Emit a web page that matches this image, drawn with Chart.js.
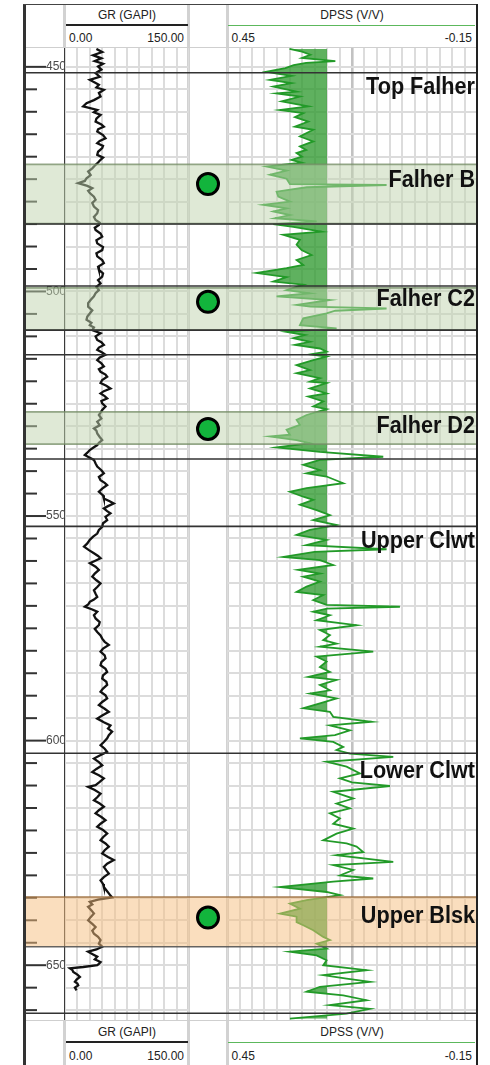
<!DOCTYPE html>
<html>
<head>
<meta charset="utf-8">
<script src="https://cdn.jsdelivr.net/npm/chart.js@4.4.1/dist/chart.umd.min.js"></script>
<style>
  html, body { margin: 0; padding: 0; background: #fff; }
  #log { position: relative; width: 490px; height: 1065px; overflow: hidden;
         font-family: "Liberation Sans", Arial, sans-serif; color: #222; }
  .abs { position: absolute; }
  .sep { position: absolute; width: 3px; background: #d2d2d2; }
  .t { position: absolute; font-size: 12px; line-height: 14px; white-space: nowrap; }
  canvas { position: absolute; }
</style>
</head>
<body>
<div id="log">
  <!-- track separators and frame -->
  <div class="sep" style="left:63px;top:5px;height:43px"></div>
  <div class="sep" style="left:63px;top:1020px;height:45px"></div>
  <div class="sep" style="left:187px;top:5px;height:1060px"></div>
  <div class="sep" style="left:225.5px;top:5px;height:1060px"></div>
  <div class="abs" style="left:26px;top:46.5px;width:450px;height:1.5px;background:#cfcfcf"></div>
  <div class="abs" style="left:26px;top:1019.5px;width:450px;height:1.5px;background:#cfcfcf"></div>
  <div class="abs" style="left:64px;top:48px;width:1px;height:972px;background:#3a3a3a"></div>

  <!-- header -->
  <div class="t" style="left:65px;width:124px;top:8px;text-align:center">GR (GAPI)</div>
  <div class="abs" style="left:66px;top:24px;width:122px;height:2.3px;background:#222"></div>
  <div class="t" style="left:69px;top:31px">0.00</div>
  <div class="t" style="right:306px;top:31px">150.00</div>
  <div class="t" style="left:227px;width:250px;top:8px;text-align:center">DPSS (V/V)</div>
  <div class="abs" style="left:228px;top:24.5px;width:247px;height:1.8px;background:#5cb85c"></div>
  <div class="t" style="left:231.5px;top:31px">0.45</div>
  <div class="t" style="right:18px;top:31px">-0.15</div>

  <!-- footer -->
  <div class="t" style="left:65px;width:124px;top:1025px;text-align:center">GR (GAPI)</div>
  <div class="abs" style="left:66px;top:1041px;width:122px;height:2.3px;background:#222"></div>
  <div class="t" style="left:69px;top:1049px">0.00</div>
  <div class="t" style="right:306px;top:1049px">150.00</div>
  <div class="t" style="left:227px;width:250px;top:1025px;text-align:center">DPSS (V/V)</div>
  <div class="abs" style="left:228px;top:1041.5px;width:247px;height:1.8px;background:#5cb85c"></div>
  <div class="t" style="left:231.5px;top:1049px">0.45</div>
  <div class="t" style="right:18px;top:1049px">-0.15</div>

  <!-- tracks -->
  <canvas id="depthTrack" width="41" height="972" style="left:26px;top:48px"></canvas>
  <canvas id="grTrack" width="124" height="972" style="left:65px;top:48px"></canvas>
  <canvas id="sampleTrack" width="38" height="972" style="left:189px;top:48px"></canvas>
  <canvas id="dpssTrack" width="250" height="972" style="left:227px;top:48px"></canvas>

  <!-- outer frame -->
  <div class="abs" style="left:23px;top:4px;width:3px;height:1061px;background:#333"></div>
  <div class="abs" style="left:23px;top:4px;width:455px;height:1px;background:#444"></div>
  <div class="abs" style="left:476px;top:4px;width:2px;height:1061px;background:#222"></div>
</div>

<script>
// ---- depth window and scales ----
const TOP_DEPTH = 445.8;
const BASE_DEPTH = 662.2;
const DEPTH_STEP = 5;
const DEPTH_LABELS = [450, 500, 550, 600, 650];
const GR_MIN = 0, GR_MAX = 150, GR_STEP = 15;
const DPSS_LEFT = 0.45, DPSS_RIGHT = -0.15, DPSS_STEP = 0.03;
const DPSS_CUTOFF = 0.21;
const DPSS_HEAVY_LINE = 0.15;

// ---- formation tops, zones, labels, sample points ----
const FORMATION_TOPS = [451.3, 485.0, 498.8, 508.6, 514.1, 537.3, 552.3, 602.8, 660.7];
const ZONE_TOPS  = [471.7, 499.2, 526.8, 634.8];
const ZONE_BASES = [484.9, 508.6, 534.0, 645.9];
const ZONE_KINDS = ['green', 'green', 'green', 'orange'];
const LABEL_NAMES  = ['Top Falher', 'Falher B', 'Falher C2', 'Falher D2', 'Upper Clwt', 'Lower Clwt', 'Upper Blsk'];
const LABEL_DEPTHS = [454.7, 475.3, 501.9, 530.2, 555.6, 606.9, 639.2];
const SAMPLE_DEPTHS = [476.1, 502.3, 530.6, 639.4];

// ---- gamma ray log ----
const GR_DEPTH = [
  446.0,446.7,447.4,448.1,448.7,449.3,449.9,450.6,451.4,452.2,
  452.9,453.5,454.0,454.6,455.1,455.8,456.6,457.4,458.1,458.8,
  459.6,460.1,460.7,461.5,462.2,462.8,463.3,463.9,464.4,465.2,
  465.9,466.5,467.0,467.6,468.1,468.9,469.6,470.2,470.7,471.3,
  471.8,472.6,473.3,474.1,474.8,475.4,475.9,476.5,477.0,477.6,
  478.1,478.9,479.6,480.3,481.1,481.9,482.6,483.4,484.1,484.7,
  485.2,485.8,486.3,487.1,487.8,488.6,489.3,490.1,490.8,491.5,
  492.2,493.0,493.7,494.5,495.2,496.0,496.7,497.5,498.2,499.0,
  499.7,500.4,501.1,501.9,502.6,503.4,504.2,504.9,505.6,506.3,
  507.0,507.5,508.0,508.6,509.3,510.0,510.8,511.3,511.9,512.5,
  513.0,513.6,514.1,514.7,515.3,516.0,516.7,517.3,517.9,518.5,
  519.0,519.7,520.4,521.0,521.6,522.2,522.7,523.3,523.8,524.4,
  524.9,525.6,526.4,527.0,527.5,528.3,529.0,529.8,530.5,531.0,
  531.6,532.4,533.1,533.7,534.2,534.8,535.3,535.9,536.4,537.0,
  537.5,538.3,539.0,539.8,540.5,541.3,542.0,542.6,543.1,543.9,
  544.6,545.4,546.1,546.7,547.2,547.8,548.3,548.9,549.4,550.2,
  550.9,551.6,552.4,553.1,553.9,554.6,555.3,556.1,556.8,557.6,
  558.3,558.9,559.4,560.0,560.5,561.3,562.0,562.8,563.5,564.3,
  565.0,565.8,566.5,567.3,568.0,568.6,569.1,569.7,570.2,570.8,
  571.3,572.1,572.8,573.6,574.3,575.1,575.8,576.6,577.3,578.0,
  578.7,579.5,580.2,581.0,581.7,582.5,583.2,584.0,584.7,585.5,
  586.2,586.9,587.6,588.4,589.1,589.9,590.6,591.4,592.1,592.9,
  593.6,594.4,595.1,595.9,596.6,597.3,598.0,598.8,599.5,600.3,
  601.0,601.8,602.5,603.3,604.0,604.8,605.5,606.3,607.0,607.7,
  608.4,609.2,609.9,610.3,611.0,611.8,612.6,613.3,614.0,614.7,
  615.5,616.2,617.0,617.7,618.5,619.2,619.9,620.7,621.5,622.2,
  622.9,623.6,624.4,625.1,625.9,626.6,627.4,628.1,628.9,629.6,
  630.4,631.1,631.9,632.6,633.3,634.0,634.5,634.9,635.4,635.9,
  636.5,637.0,637.8,638.5,639.3,640.0,640.8,641.5,642.3,643.0,
  643.7,644.4,645.2,645.9,646.5,647.0,647.6,648.1,648.7,649.3,
  649.7,650.0,650.4,650.7,651.1,651.5,652.1,652.6,653.2,653.7,
  654.1,654.5,655.0,655.6
];
const GR_API = [
  38,45,34,44,36,46,40,44,37,42,
  30,36,41,38,47,41,43,35,26,22,
  39,35,43,38,37,44,47,40,39,46,
  49,42,39,46,45,40,39,46,43,40,
  37,33,28,31,26,24,16,27,33,28,
  30,35,37,33,35,40,39,35,37,42,
  41,36,37,43,45,38,39,46,45,38,
  39,45,47,40,41,46,45,40,43,38,
  41,37,35,31,28,28,33,30,27,26,
  32,30,35,33,43,37,39,44,47,41,
  39,45,49,42,39,44,47,41,43,49,
  51,45,43,50,55,47,43,48,51,44,
  45,49,45,43,41,44,39,42,35,38,
  39,42,45,41,39,34,30,27,24,30,
  35,37,39,44,47,41,43,48,51,45,
  41,46,47,54,59,52,47,51,55,49,
  51,46,45,41,39,34,30,27,23,29,
  35,40,43,36,30,37,41,36,33,38,
  43,39,35,37,39,35,30,28,24,33,
  39,35,37,42,41,36,39,43,45,48,
  53,46,43,48,49,44,43,49,51,46,
  45,50,51,46,43,49,51,45,41,48,
  53,45,39,47,55,52,57,53,51,47,
  43,48,51,42,35,41,45,38,33,41,
  47,42,37,28,36,43,39,35,42,47,
  41,37,44,49,43,39,46,51,46,43,
  49,53,48,45,52,59,51,47,50,53,
  47,43,46,47,50,53,55,57,40,30,
  33,28,32,35,31,28,33,37,33,35,
  40,43,41,45,38,28,34,39,36,43,
  41,39,22,6,9,10,15,18,14,12,
  15,16,12,14
];

// ---- density porosity (sandstone) log ----
const DPSS_DEPTH = [
  446.0,446.6,447.3,448.0,448.7,449.1,449.6,450.3,451.1,451.5,
  452.0,452.9,453.6,454.4,455.5,455.9,456.6,457.7,458.8,459.6,
  460.3,461.2,462.2,463.3,464.0,465.5,466.6,467.7,468.5,469.2,
  470.0,470.7,471.3,472.2,473.1,474.0,474.9,476.1,476.3,476.8,
  477.8,478.9,480.0,480.7,481.5,482.2,483.0,483.7,484.4,485.0,
  485.6,486.7,487.4,488.5,489.6,490.8,491.9,493.0,494.1,494.8,
  495.9,496.8,497.8,498.5,499.7,500.4,501.1,501.9,503.0,503.4,
  503.8,504.3,504.9,506.0,507.5,508.2,509.0,509.7,510.4,511.2,
  511.9,512.7,513.4,514.0,514.5,515.3,516.4,517.5,518.2,519.3,
  520.1,520.4,521.6,522.7,523.4,524.5,525.6,526.2,527.5,528.6,
  529.7,530.8,531.9,532.3,533.1,533.8,534.7,535.7,536.8,537.5,
  538.6,539.8,540.5,541.2,542.7,543.8,544.6,545.7,546.4,547.5,
  548.7,549.8,550.9,552.0,553.1,554.2,555.3,556.5,557.4,558.0,
  559.1,559.8,560.9,562.0,562.8,563.5,564.6,565.7,566.9,567.6,
  568.7,569.8,570.2,570.6,571.3,572.1,573.2,574.3,575.4,576.5,
  577.6,578.4,579.1,580.2,581.3,582.4,583.6,584.7,585.8,586.5,
  587.6,588.8,589.5,590.6,591.7,592.8,593.6,594.7,595.8,596.6,
  597.7,598.8,599.5,600.3,601.4,602.1,602.9,603.6,604.7,605.8,
  607.3,608.4,609.3,610.1,611.4,612.9,614.0,615.1,616.2,617.3,
  618.5,619.6,620.7,622.2,622.9,623.6,624.8,625.5,627.0,627.7,
  628.8,630.0,630.7,631.4,632.6,633.7,634.4,635.5,636.3,637.4,
  638.5,639.2,640.4,641.1,642.2,643.7,644.4,645.2,646.3,647.0,
  647.8,648.9,650.0,651.1,652.2,653.0,653.7,654.8,655.9,656.7,
  657.8,658.9,659.7,660.8,661.9
];
const DPSS_VV = [
  0.300,0.270,0.250,0.270,0.190,0.260,0.290,0.310,0.355,0.330,
  0.295,0.347,0.295,0.339,0.283,0.331,0.275,0.319,0.255,0.323,
  0.267,0.287,0.255,0.287,0.243,0.275,0.243,0.275,0.260,0.283,
  0.270,0.295,0.271,0.355,0.307,0.347,0.307,0.299,0.067,0.259,
  0.331,0.327,0.299,0.363,0.307,0.339,0.299,0.335,0.235,0.339,
  0.291,0.223,0.315,0.275,0.283,0.271,0.247,0.283,0.267,0.307,
  0.379,0.307,0.339,0.267,0.307,0.251,0.331,0.203,0.283,0.250,
  0.067,0.190,0.211,0.267,0.275,0.187,0.307,0.263,0.291,0.251,
  0.287,0.227,0.211,0.250,0.211,0.243,0.283,0.251,0.283,0.227,
  0.251,0.211,0.251,0.211,0.255,0.219,0.243,0.211,0.259,0.283,
  0.275,0.307,0.299,0.347,0.283,0.251,0.331,0.227,0.075,0.227,
  0.267,0.227,0.259,0.211,0.171,0.259,0.299,0.267,0.243,0.275,
  0.235,0.203,0.243,0.187,0.251,0.283,0.211,0.260,0.067,0.240,
  0.315,0.227,0.195,0.279,0.227,0.267,0.227,0.259,0.283,0.219,
  0.243,0.211,0.035,0.210,0.243,0.203,0.235,0.139,0.227,0.203,
  0.219,0.187,0.227,0.099,0.235,0.211,0.227,0.203,0.255,0.187,
  0.227,0.203,0.251,0.187,0.227,0.267,0.203,0.195,0.103,0.203,
  0.155,0.191,0.275,0.195,0.171,0.187,0.155,0.051,0.211,0.163,
  0.131,0.179,0.150,0.059,0.195,0.147,0.187,0.155,0.203,0.179,
  0.195,0.147,0.187,0.219,0.163,0.139,0.123,0.187,0.051,0.195,
  0.147,0.179,0.099,0.195,0.323,0.211,0.179,0.259,0.299,0.275,
  0.323,0.283,0.283,0.267,0.243,0.219,0.203,0.235,0.211,0.299,
  0.235,0.211,0.219,0.115,0.219,0.163,0.107,0.227,0.259,0.171,
  0.115,0.203,0.107,0.163,0.299
];

// ---- styling ----
const FONT = '"Liberation Sans", Arial, sans-serif';
const ZONE_STYLE = {
  green:  { fill: 'rgba(191,211,173,0.5)', top: 'rgba(115,140,100,0.75)', base: 'rgba(115,140,100,0.75)' },
  orange: { fill: 'rgba(245,190,125,0.5)', top: 'rgba(150,105,55,0.85)',  base: 'rgba(85,85,85,0.9)' }
};

function stepsBetween(a, b, step) {
  const out = [];
  const n = Math.round((b - a) / step);
  for (let i = 0; i <= n; i++) out.push(+(a + i * step).toFixed(4));
  return out;
}
const depthGrid = stepsBetween(Math.ceil(TOP_DEPTH / DEPTH_STEP) * DEPTH_STEP,
                               Math.floor(BASE_DEPTH / DEPTH_STEP) * DEPTH_STEP, DEPTH_STEP);

const BASE_OPTIONS = {
  responsive: false,
  animation: false,
  events: [],
  devicePixelRatio: 1,
  layout: { padding: 0, autoPadding: false },
  plugins: { legend: { display: false }, tooltip: { enabled: false } }
};

function depthAxis(withGrid) {
  return {
    type: 'linear', reverse: true, min: TOP_DEPTH, max: BASE_DEPTH,
    afterBuildTicks: s => { s.ticks = depthGrid.map(v => ({ value: v })); },
    ticks: { display: false },
    grid: { display: withGrid, color: '#dcdcdc', lineWidth: 2, drawTicks: false },
    border: { display: false }
  };
}

// zone shading and formation top lines across a track
function zonePlugin(hook, xExtent) {
  return {
    id: 'zones_' + hook,
    [hook](chart) {
      const { ctx, scales: { y } } = chart;
      const x1 = xExtent == null ? chart.width : xExtent;
      const hline = (py) => { ctx.beginPath(); ctx.moveTo(0, py); ctx.lineTo(x1, py); ctx.stroke(); };
      ctx.save();
      ZONE_TOPS.forEach((top, i) => {
        const st = ZONE_STYLE[ZONE_KINDS[i]];
        const yt = y.getPixelForValue(top);
        const yb = y.getPixelForValue(ZONE_BASES[i]);
        ctx.fillStyle = st.fill;
        ctx.fillRect(0, yt, x1, yb - yt);
        ctx.lineWidth = 1.6;
        ctx.strokeStyle = st.top; hline(yt);
        ctx.strokeStyle = st.base; hline(yb);
      });
      ctx.strokeStyle = '#333';
      ctx.lineWidth = 1.6;
      FORMATION_TOPS.forEach(d => hline(y.getPixelForValue(d)));
      ctx.restore();
    }
  };
}

// ---- depth track ----
const depthTicks = {
  id: 'depthTicks',
  beforeDatasetsDraw(chart) {
    const { ctx, scales: { y } } = chart;
    ctx.save();
    ctx.strokeStyle = '#333';
    ctx.lineWidth = 2;
    depthGrid.forEach(d => {
      const py = y.getPixelForValue(d);
      const len = DEPTH_LABELS.includes(d) ? 20 : 11;
      ctx.beginPath(); ctx.moveTo(0, py); ctx.lineTo(len, py); ctx.stroke();
    });
    ctx.restore();
  }
};

new Chart(document.getElementById('depthTrack'), {
  type: 'line',
  data: { datasets: [] },
  options: Object.assign({}, BASE_OPTIONS, {
    scales: {
      x: { type: 'linear', display: false, min: 0, max: 1 },
      y: {
        type: 'linear', position: 'right', reverse: true, min: TOP_DEPTH, max: BASE_DEPTH,
        afterBuildTicks: s => { s.ticks = depthGrid.map(v => ({ value: v })); },
        afterFit: s => { s.width = 21; s.paddingTop = 0; s.paddingBottom = 0; },
        grid: { display: false, drawTicks: false },
        border: { display: false },
        ticks: {
          autoSkip: false, padding: 0, color: '#4a4a4a',
          font: { family: FONT, size: 12 },
          callback: v => DEPTH_LABELS.includes(v) ? String(v) : ''
        }
      }
    }
  }),
  plugins: [depthTicks, zonePlugin('afterDatasetsDraw', 39)]
});

// ---- gamma ray track ----
new Chart(document.getElementById('grTrack'), {
  type: 'line',
  data: {
    datasets: [{
      data: GR_DEPTH.map((d, i) => ({ x: GR_API[i], y: d })),
      borderColor: '#111', borderWidth: 2.3, pointRadius: 0, tension: 0, fill: false
    }]
  },
  options: Object.assign({}, BASE_OPTIONS, {
    indexAxis: 'y',
    scales: {
      x: {
        type: 'linear', min: GR_MIN, max: GR_MAX,
        afterBuildTicks: s => { s.ticks = stepsBetween(GR_MIN, GR_MAX, GR_STEP).map(v => ({ value: v })); },
        ticks: { display: false },
        grid: { color: '#dcdcdc', lineWidth: 2, drawTicks: false },
        border: { display: false }
      },
      y: depthAxis(true)
    }
  }),
  plugins: [zonePlugin('afterDatasetsDraw')]
});

// ---- sample markers ----
new Chart(document.getElementById('sampleTrack'), {
  type: 'line',
  data: {
    labels: ['core'],
    datasets: [{
      data: SAMPLE_DEPTHS.map(d => ({ x: 'core', y: d })),
      showLine: false, pointRadius: 10.5, pointBorderWidth: 3,
      pointBackgroundColor: '#12b43c', pointBorderColor: '#000'
    }]
  },
  options: Object.assign({}, BASE_OPTIONS, {
    indexAxis: 'y',
    scales: {
      x: { type: 'category', display: false, offset: true },
      y: depthAxis(false)
    }
  }),
  plugins: [zonePlugin('beforeDatasetsDraw')]
});

// ---- porosity track ----
// keep the porosity shading on the high-porosity side of the cutoff only
const cutoffClip = {
  id: 'cutoffClip',
  beforeDatasetsDraw(chart) {
    const { ctx, chartArea: a, scales: { x } } = chart;
    const px = x.getPixelForValue(DPSS_CUTOFF);
    ctx.save();
    ctx.beginPath();
    ctx.rect(a.left, a.top, px - a.left, a.bottom - a.top);
    ctx.clip();
  },
  beforeDatasetDraw(chart) { chart.ctx.restore(); }
};

const formationLabels = {
  id: 'formationLabels',
  afterDatasetsDraw(chart) {
    const { ctx, chartArea: a, scales: { y } } = chart;
    ctx.save();
    ctx.fillStyle = '#111';
    ctx.font = 'bold 23px ' + FONT;
    ctx.textAlign = 'right';
    ctx.textBaseline = 'middle';
    LABEL_NAMES.forEach((name, i) => {
      ctx.save();
      ctx.translate(a.right - 2, y.getPixelForValue(LABEL_DEPTHS[i]));
      ctx.scale(0.94, 1);
      ctx.fillText(name, 0, 0);
      ctx.restore();
    });
    ctx.restore();
  }
};

new Chart(document.getElementById('dpssTrack'), {
  type: 'line',
  data: {
    datasets: [{
      data: DPSS_DEPTH.map((d, i) => ({ x: DPSS_VV[i], y: d })),
      borderColor: '#229a28', borderWidth: 1.8, pointRadius: 0, tension: 0,
      fill: { value: DPSS_CUTOFF },
      backgroundColor: 'rgba(50,155,50,0.78)'
    }]
  },
  options: Object.assign({}, BASE_OPTIONS, {
    indexAxis: 'y',
    scales: {
      x: {
        type: 'linear', min: DPSS_RIGHT, max: DPSS_LEFT, reverse: true,
        afterBuildTicks: s => { s.ticks = stepsBetween(DPSS_RIGHT, DPSS_LEFT, DPSS_STEP).map(v => ({ value: v })); },
        ticks: { display: false },
        grid: {
          color: c => Math.abs(c.tick.value - DPSS_HEAVY_LINE) < 1e-6 ? '#c2c2c2' : '#dcdcdc',
          lineWidth: c => Math.abs(c.tick.value - DPSS_HEAVY_LINE) < 1e-6 ? 2.6 : 2,
          drawTicks: false
        },
        border: { display: false }
      },
      y: depthAxis(true)
    }
  }),
  plugins: [cutoffClip, zonePlugin('afterDatasetsDraw'), formationLabels]
});
</script>
</body>
</html>
